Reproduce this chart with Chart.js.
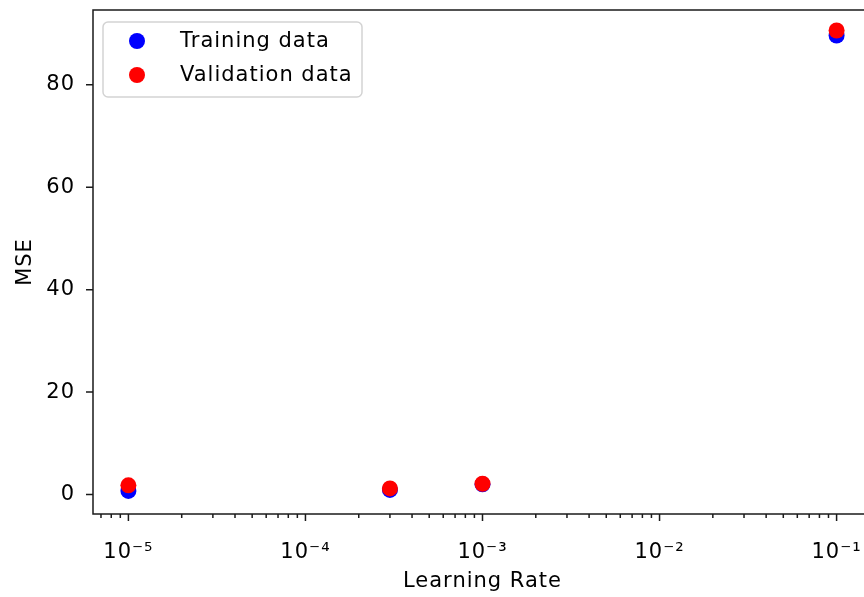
<!DOCTYPE html>
<html>
<head>
<meta charset="utf-8">
<script src="https://cdn.jsdelivr.net/npm/chart.js@4.4.1/dist/chart.umd.min.js"></script>
<style>
  html, body { margin: 0; padding: 0; overflow: hidden; background: #fff; }
  #wrap { width: 880px; height: 597px; }
</style>
</head>
<body>
<div id="wrap"><canvas id="c" width="880" height="597"></canvas></div>
<script>
// Learning-rate sweep results
const learningRates = [1e-5, 3e-4, 1e-3, 1e-1];
const trainingMSE   = [0.7, 0.9, 2.0, 89.6];
const validationMSE = [1.8, 1.2, 2.1, 90.6];

// Axis ticks
const xMajorTicks = [1e-5, 1e-4, 1e-3, 1e-2, 1e-1];
const xTickLabels = ['10⁻⁵', '10⁻⁴', '10⁻³', '10⁻²', '10⁻¹'];
const yTicks = [0, 20, 40, 60, 80];
const yTickLabels = ['0', '20', '40', '60', '80'];

const FONT = 'DejaVu Sans';
const FONT_SIZE = 21;
const LETTER_SPACING = '1px';
const X_MIN = Math.pow(10, -5.2);
const X_MAX = Math.pow(10, -0.8);

function isMajor(v) {
  const l = Math.log10(v);
  return Math.abs(l - Math.round(l)) < 1e-9;
}

// all major + minor log tick positions inside the axis range
function logTickValues(min, max) {
  const out = [];
  for (let e = Math.floor(Math.log10(min)); e <= Math.ceil(Math.log10(max)); e++) {
    for (let m = 1; m <= 9; m++) {
      const v = m * Math.pow(10, e);
      if (v >= min && v <= max) out.push(v);
    }
  }
  return out;
}

// wider text tracking for every label on the canvas
const spacingPlugin = {
  id: 'spacing',
  beforeLayout(chart) { chart.ctx.letterSpacing = LETTER_SPACING; },
  beforeDraw(chart) { chart.ctx.letterSpacing = LETTER_SPACING; }
};

// spines, tick marks and the boxed legend
const framePlugin = {
  id: 'frame',
  afterDraw(chart) {
    const ctx = chart.ctx;
    const a = chart.chartArea;
    const xs = chart.scales.x, ys = chart.scales.y;
    ctx.save();
    ctx.strokeStyle = '#1a1a1a';
    ctx.lineWidth = 1.5;
    ctx.strokeRect(a.left, a.top, a.right - a.left, a.bottom - a.top);

    ctx.beginPath();
    xs.ticks.forEach(t => {
      const px = xs.getPixelForValue(t.value);
      const len = isMajor(t.value) ? 7 : 4;
      ctx.moveTo(px, a.bottom);
      ctx.lineTo(px, a.bottom + len);
    });
    ys.ticks.forEach(t => {
      const py = ys.getPixelForValue(t.value);
      ctx.moveTo(a.left, py);
      ctx.lineTo(a.left - 7, py);
    });
    ctx.stroke();

    // legend
    const lx = 103, ly = 22, lw = 259, lh = 75;
    ctx.fillStyle = 'rgba(255,255,255,0.85)';
    ctx.strokeStyle = '#d3d3d3';
    ctx.lineWidth = 1.5;
    ctx.beginPath();
    ctx.roundRect(lx, ly, lw, lh, 5);
    ctx.fill();
    ctx.stroke();
    ctx.font = FONT_SIZE + 'px "' + FONT + '"';
    ctx.letterSpacing = LETTER_SPACING;
    ctx.textBaseline = 'middle';
    ctx.textAlign = 'left';
    chart.data.datasets.forEach((ds, i) => {
      const cy = 41 + i * 34;
      ctx.fillStyle = ds.backgroundColor;
      ctx.beginPath();
      ctx.arc(137, cy, 8, 0, Math.PI * 2);
      ctx.fill();
      ctx.fillStyle = '#000';
      ctx.fillText(ds.label, 180, cy + 1);
    });
    ctx.restore();
  }
};

function noScalePadding(scale) {
  scale.paddingTop = 0;
  scale.paddingBottom = 0;
  scale.paddingLeft = 0;
  scale.paddingRight = 0;
}

Chart.defaults.font.family = FONT;
Chart.defaults.font.size = FONT_SIZE;
Chart.defaults.color = '#000';

new Chart(document.getElementById('c'), {
  type: 'scatter',
  data: {
    datasets: [
      {
        label: 'Training data',
        data: learningRates.map((x, i) => ({ x, y: trainingMSE[i] })),
        backgroundColor: 'blue',
        borderWidth: 0,
        pointRadius: 8,
        order: 1
      },
      {
        label: 'Validation data',
        data: learningRates.map((x, i) => ({ x, y: validationMSE[i] })),
        backgroundColor: 'red',
        borderWidth: 0,
        pointRadius: 8,
        order: 0
      }
    ]
  },
  options: {
    responsive: false,
    animation: false,
    events: [],
    layout: { padding: { left: 0, top: 10, right: 8, bottom: 0 } },
    plugins: { legend: { display: false }, tooltip: { enabled: false } },
    scales: {
      x: {
        type: 'logarithmic',
        min: X_MIN,
        max: X_MAX,
        grid: { display: false, drawTicks: false },
        border: { display: false },
        afterBuildTicks(scale) {
          scale.ticks = logTickValues(X_MIN, X_MAX).map(v => ({ value: v, major: isMajor(v) }));
        },
        afterFit(scale) { scale.height = 83; noScalePadding(scale); },
        ticks: {
          autoSkip: false,
          maxRotation: 0,
          padding: 26,
          callback(value) {
            if (!isMajor(value)) return '';
            const idx = xMajorTicks.findIndex(m => Math.abs(Math.log10(m) - Math.log10(value)) < 1e-9);
            return idx >= 0 ? xTickLabels[idx] : '';
          }
        },
        title: { display: true, text: 'Learning Rate', padding: { top: 0, bottom: 3 } }
      },
      y: {
        type: 'linear',
        min: -3.8,
        max: 94.6,
        grid: { display: false, drawTicks: false },
        border: { display: false },
        afterBuildTicks(scale) {
          scale.ticks = yTicks.map(v => ({ value: v }));
        },
        afterFit(scale) { scale.width = 93; noScalePadding(scale); },
        ticks: {
          padding: 18,
          callback(value) {
            const idx = yTicks.indexOf(value);
            return idx >= 0 ? yTickLabels[idx] : '';
          }
        },
        title: { display: true, text: 'MSE', padding: { top: 13, bottom: 0 } }
      }
    }
  },
  plugins: [spacingPlugin, framePlugin]
});
</script>
</body>
</html>
